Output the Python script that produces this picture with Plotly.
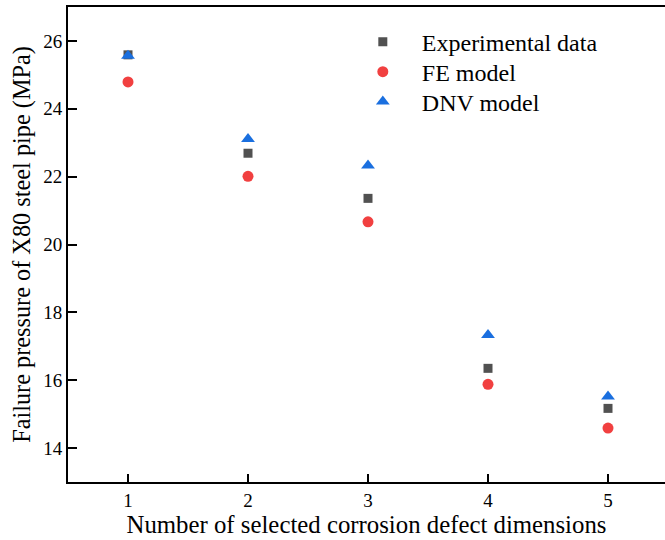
import plotly.graph_objects as go

x = [1, 2, 3, 4, 5]
experimental = [25.59, 22.69, 21.36, 16.35, 15.17]
fe_model = [24.79, 22.01, 20.67, 15.88, 14.59]
dnv_model = [25.56, 23.11, 22.33, 17.33, 15.52]

FONT = "Liberation Serif, Times New Roman, serif"

fig = go.Figure()
fig.add_trace(go.Scatter(x=x, y=experimental, mode="markers", name="Experimental data",
                         legend="legend",
                         marker=dict(symbol="square", size=9, color="#515151")))
fig.add_trace(go.Scatter(x=x, y=fe_model, mode="markers", name="FE model",
                         legend="legend2",
                         marker=dict(symbol="circle", size=11, color="#F14040")))
fig.add_trace(go.Scatter(x=x, y=dnv_model, mode="markers", name="DNV model",
                         legend="legend3",
                         marker=dict(symbol="triangle-up", size=12, color="#1A6FDF")))

def leg(ypos):
    return dict(x=0.462, y=ypos, xanchor="left", yanchor="middle",
                font=dict(family=FONT, size=24, color="#000"),
                bgcolor="rgba(0,0,0,0)", itemwidth=68, borderwidth=0)

fig.update_layout(
    width=665, height=540,
    margin=dict(l=68, r=0, t=7, b=58),
    plot_bgcolor="white", paper_bgcolor="white",
    font=dict(family=FONT, color="#000000"),
    showlegend=True,
    legend=leg(0.926), legend2=leg(0.863), legend3=leg(0.800),
    xaxis=dict(range=[0.5, 5.475], tickvals=x, ticktext=["1", "2", "3", "4", "5"],
               showgrid=False, zeroline=False, showline=True, linecolor="#000",
               linewidth=2, mirror=True, ticks="inside", ticklen=8, tickwidth=1.5,
               tickcolor="#000", tickfont=dict(family=FONT, size=19),
               title=dict(text="Number of selected corrosion defect dimensions",
                          font=dict(family=FONT, size=24.8), standoff=4)),
    yaxis=dict(range=[13, 27], tickvals=[14, 16, 18, 20, 22, 24, 26],
               showgrid=False, zeroline=False, showline=True, linecolor="#000",
               linewidth=2, mirror=False, ticks="inside", ticklen=9, tickwidth=1.5,
               tickcolor="#000", tickfont=dict(family=FONT, size=19),
               title=dict(text="Failure pressure of X80 steel pipe (MPa)",
                          font=dict(family=FONT, size=24.3), standoff=6)),
)

fig.write_html("out.html")
